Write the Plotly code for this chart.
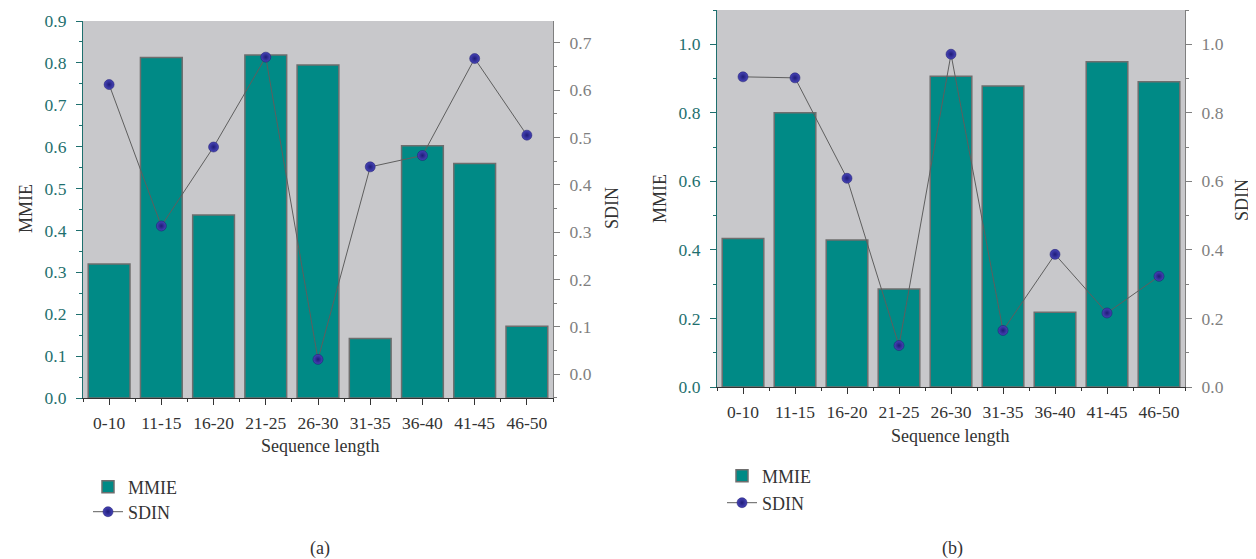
import plotly.graph_objects as go

W, H = 1256, 559

categories = ["0-10", "11-15", "16-20", "21-25", "26-30", "31-35", "36-40", "41-45", "46-50"]

mmie_a = [0.320, 0.813, 0.437, 0.819, 0.795, 0.142, 0.602, 0.560, 0.171]
sdin_a = [0.612, 0.313, 0.480, 0.670, 0.031, 0.438, 0.462, 0.667, 0.505]

mmie_b = [0.433, 0.800, 0.429, 0.286, 0.907, 0.878, 0.218, 0.949, 0.891]
sdin_b = [0.905, 0.902, 0.609, 0.121, 0.971, 0.165, 0.387, 0.216, 0.323]

left_ticks_a = [0.0, 0.1, 0.2, 0.3, 0.4, 0.5, 0.6, 0.7, 0.8, 0.9]
right_ticks_a = [0.0, 0.1, 0.2, 0.3, 0.4, 0.5, 0.6, 0.7]
ticks_b = [0.0, 0.2, 0.4, 0.6, 0.8, 1.0]

FONT = "Liberation Serif, Times New Roman, DejaVu Serif, serif"
TEAL = "#008A86"
TEAL_TXT = "#1E6F6E"
GRAY_TXT = "#7F7F7F"
BAR_EDGE = "#6E6E6E"
LINE = "#5E5E5E"
DARK = "#333333"
BG = "#C8C8CB"

xs = list(range(len(categories)))
minor_x = [i - 0.5 for i in range(len(categories) + 1)]


def px_x(p):
    return p / W


def px_y(p):
    return 1 - p / H


fig = go.Figure()

marker_style = dict(color="#4744B8", size=10,
                    gradient=dict(type="radial", color="#1F1C78"),
                    line=dict(color="#1A186A", width=0.5))

# ---- panel (a) ----
fig.add_trace(go.Bar(x=xs, y=mmie_a, width=0.8, name="MMIE",
                     marker=dict(color=TEAL, line=dict(color=BAR_EDGE, width=1.5)),
                     xaxis="x", yaxis="y", legend="legend"))
fig.add_trace(go.Scatter(x=xs, y=sdin_a, mode="lines+markers", name="SDIN",
                         line=dict(color=LINE, width=1), marker=marker_style,
                         xaxis="x", yaxis="y2", legend="legend3"))

# ---- panel (b) ----
fig.add_trace(go.Bar(x=xs, y=mmie_b, width=0.8, name="MMIE",
                     marker=dict(color=TEAL, line=dict(color=BAR_EDGE, width=1.5)),
                     xaxis="x2", yaxis="y3", legend="legend2"))
fig.add_trace(go.Scatter(x=xs, y=sdin_b, mode="lines+markers", name="SDIN",
                         line=dict(color=LINE, width=1), marker=marker_style,
                         xaxis="x2", yaxis="y4", legend="legend4"))

tickfont = dict(family=FONT, size=17.5, color=DARK)


def xaxis_bottom(domain, anchor):
    return dict(domain=domain, anchor=anchor, range=[-0.5, 8.5], automargin=False,
                tickmode="array", tickvals=xs, ticktext=categories,
                ticks="outside", ticklen=6, tickwidth=1, tickcolor=DARK, ticklabelstandoff=3,
                minor=dict(tickvals=minor_x, ticks="outside", ticklen=3, tickcolor=DARK, tickwidth=1),
                showline=True, linecolor=DARK, linewidth=1.2,
                showgrid=False, zeroline=False, tickfont=tickfont, fixedrange=True)


def xaxis_top(overlay, anchor):
    return dict(overlaying=overlay, anchor=anchor, side="top", range=[-0.5, 8.5], automargin=False,
                tickmode="array", tickvals=xs, showticklabels=False,
                ticks="inside", ticklen=6, tickwidth=1, tickcolor=DARK,
                minor=dict(tickvals=minor_x, ticks="inside", ticklen=3, tickcolor=DARK, tickwidth=1),
                showline=True, linecolor=DARK, linewidth=1.2,
                showgrid=False, zeroline=False)


def yaxis_left(domain, anchor, rng, tv, mdt):
    return dict(domain=domain, anchor=anchor, range=rng, tickmode="array", tickvals=tv, automargin=False,
                tickformat=".1f", ticks="outside", ticklen=6, tickwidth=1, tickcolor=TEAL_TXT,
                minor=dict(dtick=mdt, tick0=0, ticks="outside", ticklen=3, tickcolor=TEAL_TXT, tickwidth=1),
                showline=True, linecolor=TEAL_TXT, linewidth=1.2, ticklabelstandoff=6,
                showgrid=False, zeroline=False,
                tickfont=dict(family=FONT, size=17.5, color=TEAL_TXT), fixedrange=True)


def yaxis_right(overlay, anchor, rng, tv, mdt):
    return dict(overlaying=overlay, anchor=anchor, side="right", range=rng, tickmode="array", tickvals=tv,
                automargin=False,
                tickformat=".1f", ticks="outside", ticklen=6, tickwidth=1, tickcolor=GRAY_TXT,
                minor=dict(dtick=mdt, tick0=0, ticks="outside", ticklen=3, tickcolor=GRAY_TXT, tickwidth=1),
                showline=True, linecolor=GRAY_TXT, linewidth=1.2, ticklabelstandoff=6,
                showgrid=False, zeroline=False,
                tickfont=dict(family=FONT, size=17.5, color=GRAY_TXT), fixedrange=True)


dom_xa = [px_x(75), px_x(545)]
dom_ya = [px_y(390), px_y(13)]
dom_xb = [px_x(709), px_x(1177)]
dom_yb = [px_y(379), px_y(2)]

legend_style = dict(font=dict(family=FONT, size=18, color=DARK), bgcolor="rgba(0,0,0,0)",
                    xanchor="left", yanchor="middle", itemwidth=30)

fig.update_layout(
    width=W, height=H,
    margin=dict(l=0, r=0, t=0, b=0, autoexpand=False),
    paper_bgcolor="white", plot_bgcolor=BG,
    font=dict(family=FONT),
    xaxis=xaxis_bottom(dom_xa, "y"),
    yaxis=yaxis_left(dom_ya, "x", [0, 0.9], left_ticks_a, 0.05),
    yaxis2=yaxis_right("y", "x", [-0.0507, 0.7464], right_ticks_a, 0.05),
    xaxis3=xaxis_top("x", "y"),
    xaxis2=xaxis_bottom(dom_xb, "y3"),
    yaxis3=yaxis_left(dom_yb, "x2", [0, 1.1], ticks_b, 0.1),
    yaxis4=yaxis_right("y3", "x2", [0, 1.1], ticks_b, 0.1),
    xaxis4=xaxis_top("x2", "y3"),
    legend=dict(x=px_x(80), y=px_y(479), **legend_style),
    legend3=dict(x=px_x(80), y=px_y(504), **legend_style),
    legend2=dict(x=px_x(714), y=px_y(468), **legend_style),
    legend4=dict(x=px_x(714), y=px_y(495), **legend_style),
    showlegend=True,
)

ann_font = dict(family=FONT, size=18, color=DARK)
annotations = [
    dict(text="MMIE", x=px_x(18), y=px_y(201), textangle=-90),
    dict(text="SDIN", x=px_x(604), y=px_y(200), textangle=-90),
    dict(text="Sequence length", x=px_x(312), y=px_y(438)),
    dict(text="MMIE", x=px_x(652), y=px_y(191), textangle=-90),
    dict(text="SDIN", x=px_x(1234), y=px_y(192), textangle=-90),
    dict(text="Sequence length", x=px_x(942), y=px_y(428)),
    dict(text="(a)", x=px_x(312), y=px_y(540)),
    dict(text="(b)", x=px_x(944), y=px_y(540)),
]
for a in annotations:
    fig.add_annotation(xref="paper", yref="paper", xanchor="center", yanchor="middle",
                       showarrow=False, font=ann_font, **a)

fig.write_html("out.html")
